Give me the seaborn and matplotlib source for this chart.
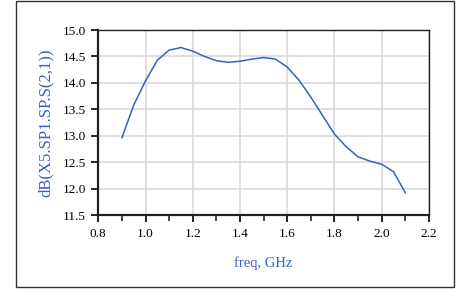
import seaborn as sns
import matplotlib.pyplot as plt
import pandas as pd
from matplotlib.patches import Rectangle
from matplotlib.ticker import MultipleLocator

freq = [0.90, 0.95, 1.00, 1.05, 1.10, 1.15, 1.20, 1.25, 1.30, 1.35, 1.40, 1.45, 1.50,
        1.55, 1.60, 1.65, 1.70, 1.75, 1.80, 1.85, 1.90, 1.95, 2.00, 2.05, 2.10]
s21_db = [12.96, 13.58, 14.04, 14.43, 14.62, 14.67, 14.60, 14.50, 14.42, 14.39, 14.41, 14.45, 14.48,
          14.45, 14.30, 14.05, 13.73, 13.38, 13.03, 12.79, 12.60, 12.52, 12.46, 12.32, 11.92]
x_ticks = [0.8, 1.0, 1.2, 1.4, 1.6, 1.8, 2.0, 2.2]
y_ticks = [11.5, 12.0, 12.5, 13.0, 13.5, 14.0, 14.5, 15.0]

df = pd.DataFrame({"freq": freq, "s21": s21_db})

sns.set_style("white")
plt.rcParams['font.family'] = ['Liberation Serif', 'DejaVu Serif']

blue = "#3a5fc4"
fig = plt.figure(figsize=(4.58, 2.89), dpi=100)
ax = fig.add_axes([0.2146, 0.256, 0.722, 0.640])

sns.lineplot(data=df, x="freq", y="s21", ax=ax, color=blue, linewidth=1.1)

ax.set_xlim(0.8, 2.2)
ax.set_ylim(11.5, 15.0)
ax.set_xticks(x_ticks)
ax.set_yticks(y_ticks)
ax.xaxis.set_minor_locator(MultipleLocator(0.1))
ax.set_xticklabels([f"{v:.1f}" for v in x_ticks])
ax.set_yticklabels([f"{v:.1f}" for v in y_ticks])
ax.grid(True, which="major", color="#d9d9d9", linewidth=1.2)
ax.tick_params(axis="both", which="major", direction="out", length=5, width=1.2,
               labelsize=9.5, colors="black", pad=4, left=True, bottom=True)
ax.tick_params(axis="x", which="minor", direction="out", length=4, width=1.2, bottom=True)

for side in ["left", "bottom"]:
    ax.spines[side].set_linewidth(1.6)
    ax.spines[side].set_color("#222222")
for side in ["top", "right"]:
    ax.spines[side].set_linewidth(1.0)
    ax.spines[side].set_color("#222222")

ax.set_xlabel("freq, GHz", color=blue, fontsize=10.5, labelpad=12)
ax.set_ylabel("dB(X5.SP1.SP.S(2,1))", color=blue, fontsize=12, labelpad=6)

fig.patches.append(Rectangle((0.034, 0.006), 0.957, 0.99, transform=fig.transFigure,
                             fill=False, edgecolor="#333333", linewidth=1.0))

fig.savefig("out.png", dpi=100)
